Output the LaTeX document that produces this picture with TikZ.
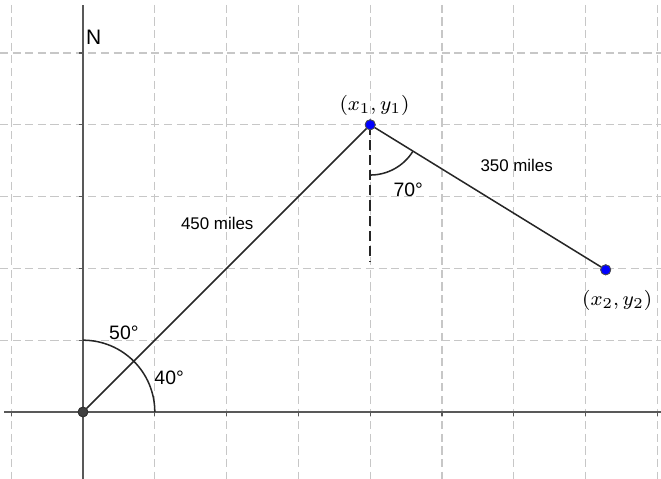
\documentclass[tikz,border=0pt]{standalone}
\usepackage{fontspec}
\newfontfamily\labfont{Liberation Sans}
\usetikzlibrary{positioning,calc}

\tikzset{
  gridline/.style={color=black!22, line width=0.45pt, dash pattern=on 3.2pt off 1.8pt},
  axisline/.style={color=black!65, line width=0.8pt},
  segline/.style={black!85, line width=0.6pt},
  bluept/.style={circle, fill=blue, draw=black!70, line width=0.3pt, inner sep=0pt, minimum size=4pt},
  origpt/.style={circle, fill=black!75, draw=black!80, inner sep=0pt, minimum size=3.8pt},
  miles/.style={font=\labfont\fontsize{6.7}{8}\selectfont, inner sep=0pt},
  anglab/.style={font=\labfont\fontsize{7.7}{9}\selectfont, inner sep=0pt},
  ptlab/.style={font=\fontsize{8.3}{10}\selectfont, inner sep=0pt}
}

\begin{document}
\begin{tikzpicture}
      \useasboundingbox (-1.156,-0.933) rectangle (8.05,5.738);
%      \draw[help lines] (-1,-1) grid (8,6);

      % grid
      \foreach \x in {-1,1,2,...,8}
        \draw[gridline] (\x,5.67) -- (\x,-0.933);
      \foreach \y in {1,...,5}
        \draw[gridline] (-1.156,\y) -- (8.05,\y);

      % axes
      \coordinate (xl) at (-1.1,0);
      \coordinate (xr) at (8.05,0);
      \coordinate (yt) at (0,5.67);
      \coordinate (yb) at (0,-0.933);
      \draw[axisline] (xl) -- (xr);
      \draw[axisline] (yb) -- (yt);
      \foreach \y in {1,...,5}
        \draw[axisline, line width=0.5pt] (-0.05,\y) -- (0,\y);
      \foreach \x in {-1,1,2,...,8}
        \draw[axisline, line width=0.5pt] (\x,0) -- (\x,-0.05);
      \node[anglab, font=\labfont\fontsize{8.3}{10}\selectfont] (north) at (0.15,5.22) {N};

      % points
      \node[origpt] (O) at (0,0) {};
      \node[bluept] (P1) at (4,4) {};
      \node[bluept] (P2) at (7.28,1.98) {};
      \coordinate (S) at (4,2.1);

      % angle at origin
      \draw[segline] (1,0) arc (0:90:1);
      \node[anglab] (a50) at (0.57,1.1) {50°};
      \node[anglab] (a40) at (1.2,0.47) {40°};

      % bearing at P1
      \draw[segline, dash pattern=on 4pt off 2pt] (P1.center) -- (S);
      \draw[segline] ($(4,4)+(-90:0.7)$) arc (-90:-31.5:0.7);
      \node[anglab] (a70) at (4.53,3.09) {70°};

      % legs
      \draw[segline] (O) -- (P1);
      \draw[segline] (P1) -- (P2);
      \node[origpt] at (O) {};
      \node[bluept] at (P1) {};
      \node[bluept] at (P2) {};

      \node[miles] (m450) at (1.87,2.62) {450 miles};
      \node[miles] (m350) at (6.04,3.44) {350 miles};
      \node[ptlab] (l1) at (4.06,4.27) {$(x_1,y_1)$};
      \node[ptlab] (l2) at (7.44,1.55) {$(x_2,y_2)$};
    \end{tikzpicture}
\end{document}
